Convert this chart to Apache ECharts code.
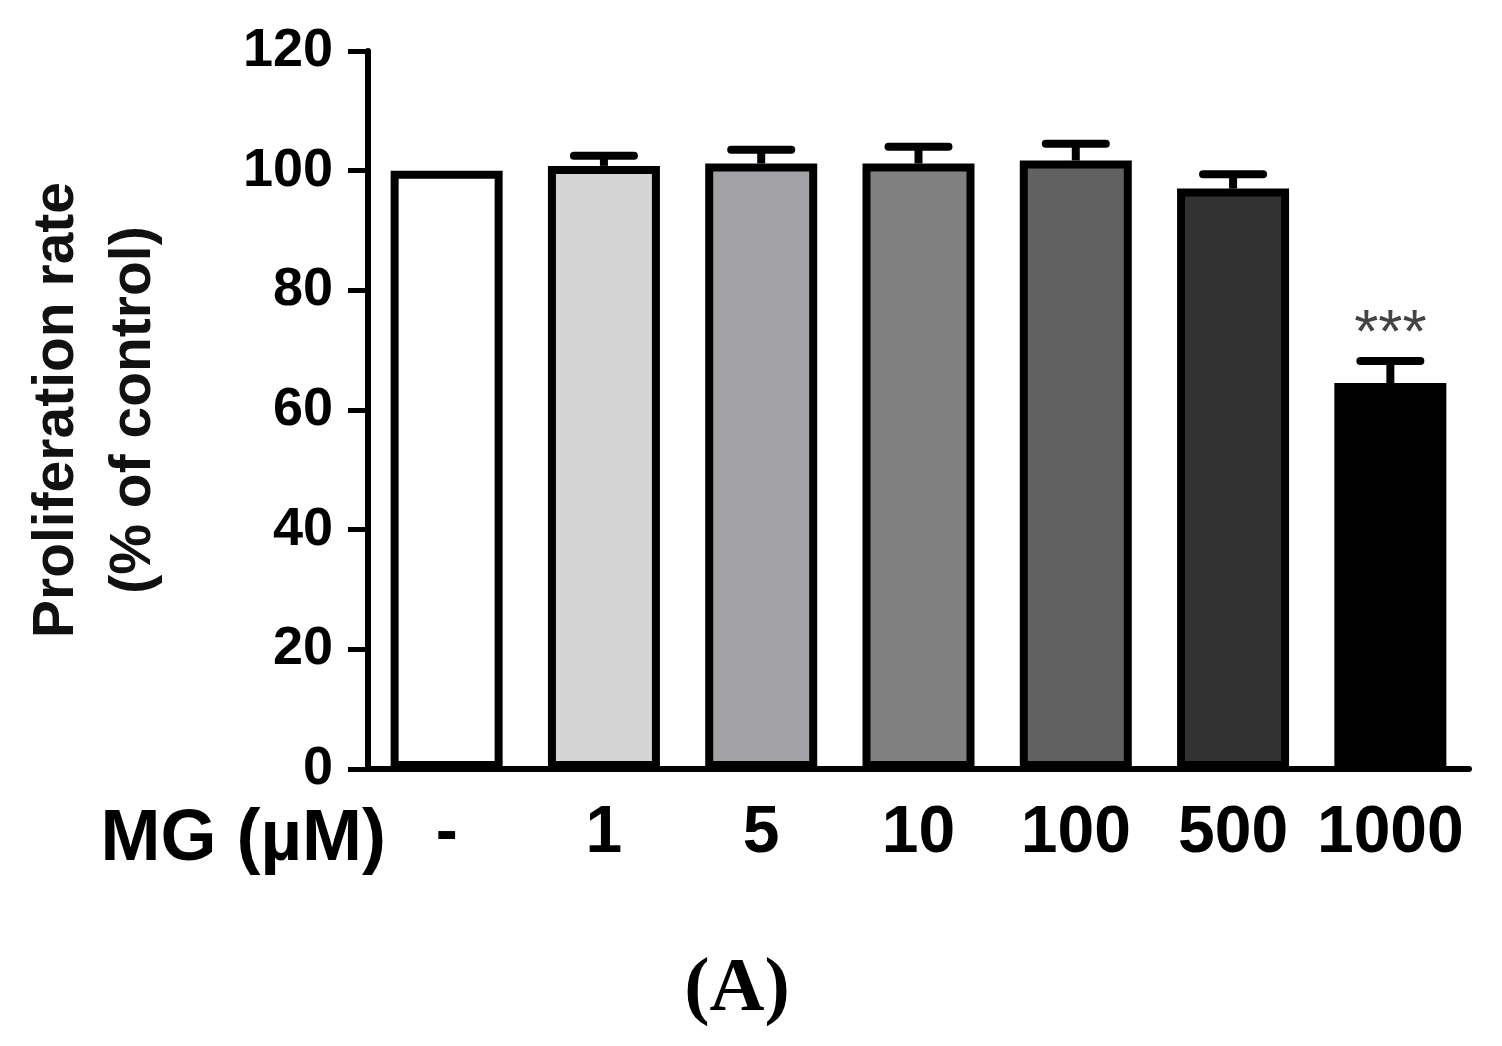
<!DOCTYPE html>
<html>
<head>
<meta charset="utf-8">
<script src="https://cdn.jsdelivr.net/npm/echarts@6/dist/echarts.min.js"></script>
<style>
  html, body { margin: 0; padding: 0; background: #fff; }
  #main { width: 1502px; height: 1046px; }
</style>
</head>
<body>
<div id="main"></div>
<script>
// data
var doses = ['-', '1', '5', '10', '100', '500', '1000'];
var rates = [100, 100.8, 101.2, 101.2, 101.7, 97.0, 64.5];
var errs = [0, 1.7, 2.3, 2.8, 2.8, 2.4, 3.7];
var sigMarks = ['', '', '', '', '', '', '***'];
var fills = ['#ffffff', '#d4d4d4', '#a2a1a6', '#808080', '#616161', '#323232', '#000000'];

var chart = echarts.init(document.getElementById('main'));
var font = 'Arial, "Liberation Sans", sans-serif';

var barData = rates.map(function (v, i) {
    return { value: v, itemStyle: { color: fills[i] } };
});
var errData = rates.map(function (v, i) {
    return [i, v, errs[i]];
});

// upper error bar + significance stars
function renderErr(params, api) {
    var i = api.value(0);
    var mean = api.value(1);
    var sd = api.value(2);
    var base = api.coord([i, mean]);
    var top = api.coord([i, mean + sd]);
    var half = 30;
    var children = [];
    if (sd > 0) {
        children.push({
            type: 'line',
            shape: { x1: base[0], y1: base[1], x2: top[0], y2: top[1] },
            style: { stroke: '#000', lineWidth: 8 }
        });
        children.push({
            type: 'line',
            shape: { x1: top[0] - half, y1: top[1], x2: top[0] + half, y2: top[1] },
            style: { stroke: '#000', lineWidth: 8, lineCap: 'round' }
        });
    }
    if (sigMarks[i]) {
        children.push({
            type: 'text',
            x: top[0],
            y: top[1] - 26,
            style: {
                text: sigMarks[i],
                fill: '#444',
                font: '62px ' + font,
                align: 'center',
                verticalAlign: 'middle'
            }
        });
    }
    return { type: 'group', children: children };
}

var option = {
    animation: false,
    backgroundColor: '#fff',
    grid: { left: 368, right: 33, top: 51, bottom: 277 },
    xAxis: {
        type: 'category',
        data: doses,
        axisLine: { lineStyle: { color: '#000', width: 6 } },
        axisTick: { alignWithLabel: true, length: 22, lineStyle: { color: '#000', width: 5 } },
        axisLabel: {
            color: '#000', fontSize: 66, fontWeight: 'bold', fontFamily: font,
            margin: 32, interval: 0
        }
    },
    yAxis: {
        type: 'value',
        min: 0, max: 120, interval: 20,
        name: 'Proliferation rate\n(% of control)',
        nameLocation: 'middle',
        nameRotate: 90,
        nameGap: 195,
        nameTextStyle: { color: '#111', fontSize: 57, fontWeight: 'bold', fontFamily: font, lineHeight: 77 },
        axisLine: { show: true, lineStyle: { color: '#000', width: 6 } },
        axisTick: { show: true, length: 20, lineStyle: { color: '#000', width: 5 } },
        splitLine: { show: false },
        axisLabel: { color: '#000', fontSize: 54, fontWeight: 'bold', fontFamily: font, margin: 35 }
    },
    graphic: [
        {
            type: 'text', x: 386, y: 840,
            style: {
                text: 'MG (\u00b5M)', fill: '#000', font: 'bold 72px ' + font,
                align: 'right', verticalAlign: 'middle'
            }
        },
        {
            type: 'text', x: 737, y: 990,
            style: {
                text: '(A)', fill: '#000',
                font: 'bold 76px "Times New Roman", "Liberation Serif", serif',
                align: 'center', verticalAlign: 'middle'
            }
        }
    ],
    series: [
        {
            type: 'bar',
            data: barData,
            barWidth: 112,
            itemStyle: { borderColor: '#000', borderWidth: 8 },
            z: 2
        },
        {
            type: 'custom',
            data: errData,
            renderItem: renderErr,
            z: 3
        }
    ]
};

chart.setOption(option);
</script>
</body>
</html>
